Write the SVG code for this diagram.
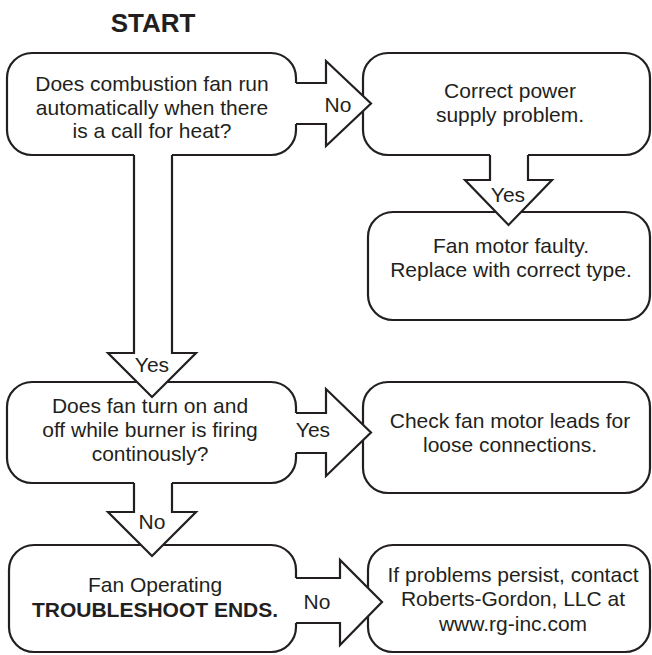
<svg xmlns="http://www.w3.org/2000/svg" width="652" height="655" viewBox="0 0 652 655">
<style>
.box{fill:#fff;stroke:#231f20;stroke-width:2.2}
.af{fill:#fff;stroke:none}
.ao{fill:none;stroke:#231f20;stroke-width:2.2;stroke-linejoin:miter}
text{font-family:"Liberation Sans",Arial,Helvetica,sans-serif;font-size:21px;fill:#231f20;text-anchor:middle}
.b{font-weight:bold}
.title{font-weight:bold;font-size:26px}
</style>
<rect width="652" height="655" fill="#fff"/>
<text class="title" x="153" y="32">START</text>
<g id="n1"><rect class="box" x="7" y="53" width="289" height="102" rx="25"/>
<text x="152" y="91">Does combustion fan run</text>
<text x="152" y="114.5">automatically when there</text>
<text x="152" y="138">is a call for heat?</text></g>
<g id="n2"><rect class="box" x="363" y="53" width="287" height="102" rx="25"/>
<text x="510" y="98">Correct power</text>
<text x="510" y="122">supply problem.</text></g>
<g id="n3"><rect class="box" x="368" y="212" width="282" height="108" rx="25"/>
<text x="511" y="253">Fan motor faulty.</text>
<text x="511" y="277">Replace with correct type.</text></g>
<g id="n4"><rect class="box" x="7" y="382" width="289" height="101" rx="25"/>
<text x="150" y="413">Does fan turn on and</text>
<text x="150" y="437">off while burner is firing</text>
<text x="150" y="461">continously?</text></g>
<g id="n5"><rect class="box" x="363" y="382" width="287" height="111" rx="25"/>
<text x="510" y="428">Check fan motor leads for</text>
<text x="510" y="452">loose connections.</text></g>
<g id="n6"><rect class="box" x="9" y="545" width="287" height="107" rx="25"/>
<text x="155" y="592">Fan Operating</text>
<text class="b" x="155" y="617">TROUBLESHOOT ENDS.</text></g>
<g id="n7"><rect class="box" x="368" y="545" width="282" height="107" rx="25"/>
<text x="513" y="582">If problems persist, contact</text>
<text x="513" y="606">Roberts-Gordon, LLC at</text>
<text x="513" y="631">www.rg-inc.com</text></g>
<g id="connectors">
<g id="c1"><path class="af" d="M290,83 H326 V61 L371,103.5 L326,146 V124 H290 Z"/>
<path class="ao" d="M296,83 H326 V61 L371,103.5 L326,146 V124 H296"/>
<text x="338" y="112">No</text></g>
<g id="c2"><path class="af" d="M490,149 V180 H465 L508.5,225 L552,180 H528 V149 Z"/>
<path class="ao" d="M490,155 V180 H465 L508.5,225 L552,180 H528 V155"/>
<text x="508" y="202">Yes</text></g>
<g id="c3"><path class="af" d="M134,149 V353 H108 L152,397 L196,353 H172 V149 Z"/>
<path class="ao" d="M134,155 V353 H108 L152,397 L196,353 H172 V155"/>
<text x="152" y="372">Yes</text></g>
<g id="c4"><path class="af" d="M290,413 H326 V389 L371,432.5 L326,476 V453 H290 Z"/>
<path class="ao" d="M296,413 H326 V389 L371,432.5 L326,476 V453 H296"/>
<text x="313" y="437">Yes</text></g>
<g id="c5"><path class="af" d="M134,477 V512 H108 L152,556 L196,512 H172 V477 Z"/>
<path class="ao" d="M134,483 V512 H108 L152,556 L196,512 H172 V483"/>
<text x="152" y="529">No</text></g>
<g id="c6"><path class="af" d="M290,578 H340 V560 L382,602 L340,645 V623 H290 Z"/>
<path class="ao" d="M296,578 H340 V560 L382,602 L340,645 V623 H296"/>
<text x="317" y="609">No</text></g>
</g>
</svg>
